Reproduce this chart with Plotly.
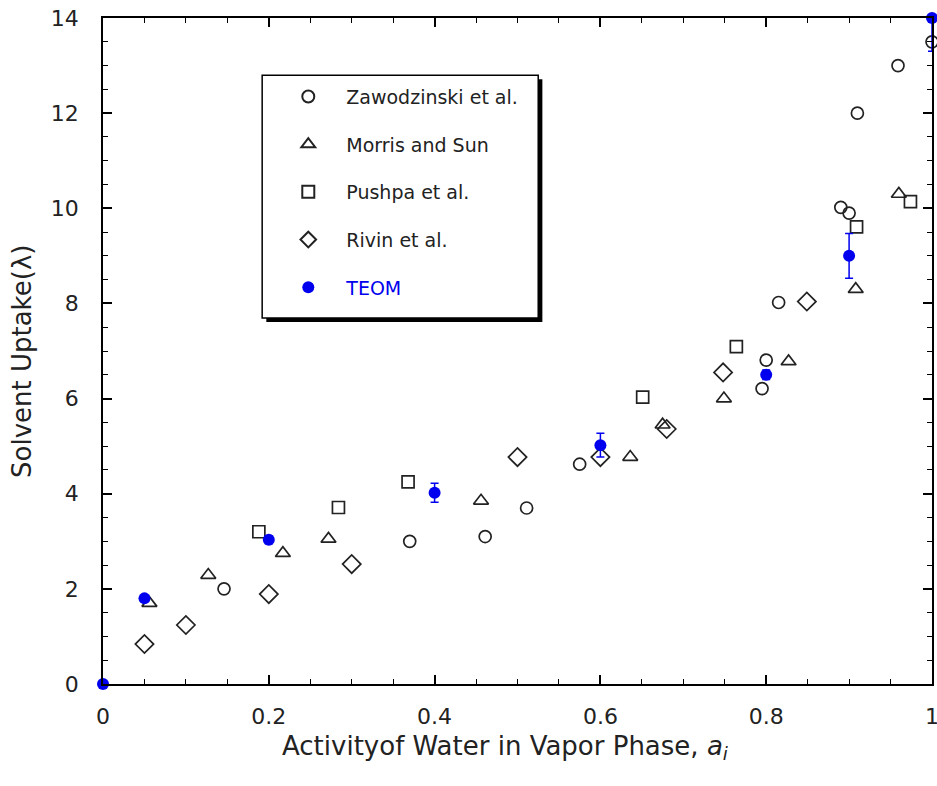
import plotly.graph_objects as go

# ---- data ----
zaw_x = [0.146, 0.37, 0.461, 0.511, 0.575, 0.795, 0.80, 0.815, 0.89, 0.90, 0.91, 0.959, 1.0]
zaw_y = [2.0, 3.0, 3.1, 3.7, 4.62, 6.21, 6.81, 8.02, 10.02, 9.9, 12.0, 13.0, 13.5]

mor_x = [0.056, 0.127, 0.217, 0.272, 0.456, 0.636, 0.675, 0.749, 0.827, 0.908, 0.96]
mor_y = [1.7, 2.29, 2.75, 3.05, 3.85, 4.77, 5.45, 6.0, 6.78, 8.3, 10.3]

pus_x = [0.188, 0.284, 0.368, 0.651, 0.764, 0.909, 0.974]
pus_y = [3.2, 3.71, 4.25, 6.03, 7.09, 9.61, 10.14]

riv_x = [0.05, 0.10, 0.20, 0.30, 0.50, 0.60, 0.68, 0.748, 0.849]
riv_y = [0.84, 1.24, 1.89, 2.52, 4.77, 4.77, 5.36, 6.55, 8.04]

teom_x = [0.0, 0.05, 0.2, 0.4, 0.6, 0.8, 0.9, 1.0]
teom_y = [0.0, 1.8, 3.03, 4.02, 5.02, 6.5, 9.0, 14.0]
teom_err = [0.0, 0.05, 0.08, 0.2, 0.25, 0.1, 0.47, 0.7]

x_ticks = [0, 0.2, 0.4, 0.6, 0.8, 1]
x_labels = ["0", "0.2", "0.4", "0.6", "0.8", "1"]
y_ticks = [0, 2, 4, 6, 8, 10, 12, 14]

x_title = "Activityof Water in Vapor Phase, <i>a<sub>i</sub></i>"
y_title = "Solvent Uptake(λ)"

FONT = "DejaVu Sans, Liberation Sans, Arial, sans-serif"
INK = "#222222"
BLUE = "#0000ee"

fig = go.Figure()

def open_trace(x, y, name, symbol, size, group):
    fig.add_trace(go.Scatter(
        x=x, y=y, mode="markers", name=name, legendgroup=group,
        cliponaxis=False,
        marker=dict(symbol=symbol, size=size, color=INK,
                    line=dict(color=INK, width=1.7)),
    ))

open_trace(zaw_x, zaw_y, "Zawodzinski et al.", "circle-open", 12, "a")
open_trace(mor_x, mor_y, "Morris and Sun", "triangle-up-open", 13, "b")
open_trace(pus_x, pus_y, "Pushpa et al.", "square-open", 12, "c")
open_trace(riv_x, riv_y, "Rivin et al.", "diamond-open", 14, "d")

fig.add_trace(go.Scatter(
    x=teom_x, y=teom_y, mode="markers",
    name="<span style='color:#0000ee'>TEOM</span>", legendgroup="e",
    cliponaxis=False,
    marker=dict(symbol="circle", size=12, color=BLUE),
    error_y=dict(type="data", array=teom_err, visible=True,
                 color=BLUE, thickness=1.5, width=4),
))

# legend frame + shadow (paper coordinates)
lx0, lx1, ly0, ly1 = 0.192, 0.525, 0.5495, 0.914
fig.add_shape(type="rect", xref="paper", yref="paper",
              x0=lx0 + 0.005, x1=lx1 + 0.005, y0=ly0 - 0.006, y1=ly1 - 0.006,
              fillcolor="black", line=dict(width=0), layer="above")
fig.add_shape(type="rect", xref="paper", yref="paper",
              x0=lx0, x1=lx1, y0=ly0, y1=ly1,
              fillcolor="white", line=dict(color="black", width=1.5), layer="above")

# axis titles as annotations for precise placement
fig.add_annotation(text=x_title, xref="paper", yref="paper",
                   x=0.485, y=-0.0955, xanchor="center", yanchor="middle",
                   showarrow=False, font=dict(size=26, family=FONT, color=INK))
fig.add_annotation(text=y_title, xref="paper", yref="paper",
                   x=-0.0977, y=0.4835, xanchor="center", yanchor="middle",
                   textangle=-90, showarrow=False,
                   font=dict(size=26, family=FONT, color=INK))

fig.update_layout(
    width=937, height=786,
    margin=dict(l=103, r=5, t=18, b=102),
    plot_bgcolor="white", paper_bgcolor="white",
    font=dict(family=FONT, color=INK, size=20),
    showlegend=True,
    legend=dict(
        x=0.2018, y=0.9105, xanchor="left", yanchor="top",
        bgcolor="rgba(0,0,0,0)", borderwidth=0,
        font=dict(family=FONT, size=19, color=INK),
        tracegroupgap=20, itemsizing="constant", itemwidth=66,
    ),
    xaxis=dict(
        range=[0, 1], tickvals=x_ticks, ticktext=x_labels,
        showgrid=False, zeroline=False,
        showline=True, linecolor="black", linewidth=1.5, mirror="ticks",
        ticks="inside", ticklen=9, tickwidth=1.5, tickcolor="black",
        minor=dict(dtick=0.05, ticks="inside", ticklen=5, tickwidth=1, tickcolor="black"),
        tickfont=dict(size=22, family=FONT, color=INK),
        ticklabelstandoff=12, ticklabeloverflow="allow",
        automargin=False,
    ),
    yaxis=dict(
        range=[0, 14], tickvals=y_ticks,
        showgrid=False, zeroline=False,
        showline=True, linecolor="black", linewidth=1.5, mirror="ticks",
        ticks="inside", ticklen=9, tickwidth=1.5, tickcolor="black",
        minor=dict(dtick=0.5, ticks="inside", ticklen=5, tickwidth=1, tickcolor="black"),
        tickfont=dict(size=22, family=FONT, color=INK),
        ticklabelstandoff=18, ticklabeloverflow="allow",
        automargin=False,
    ),
)

# remove the default 8px page margin so the figure fills the window exactly
fig.write_html("out.html", config={"displayModeBar": False},
               post_script="document.body.style.margin='0';")
